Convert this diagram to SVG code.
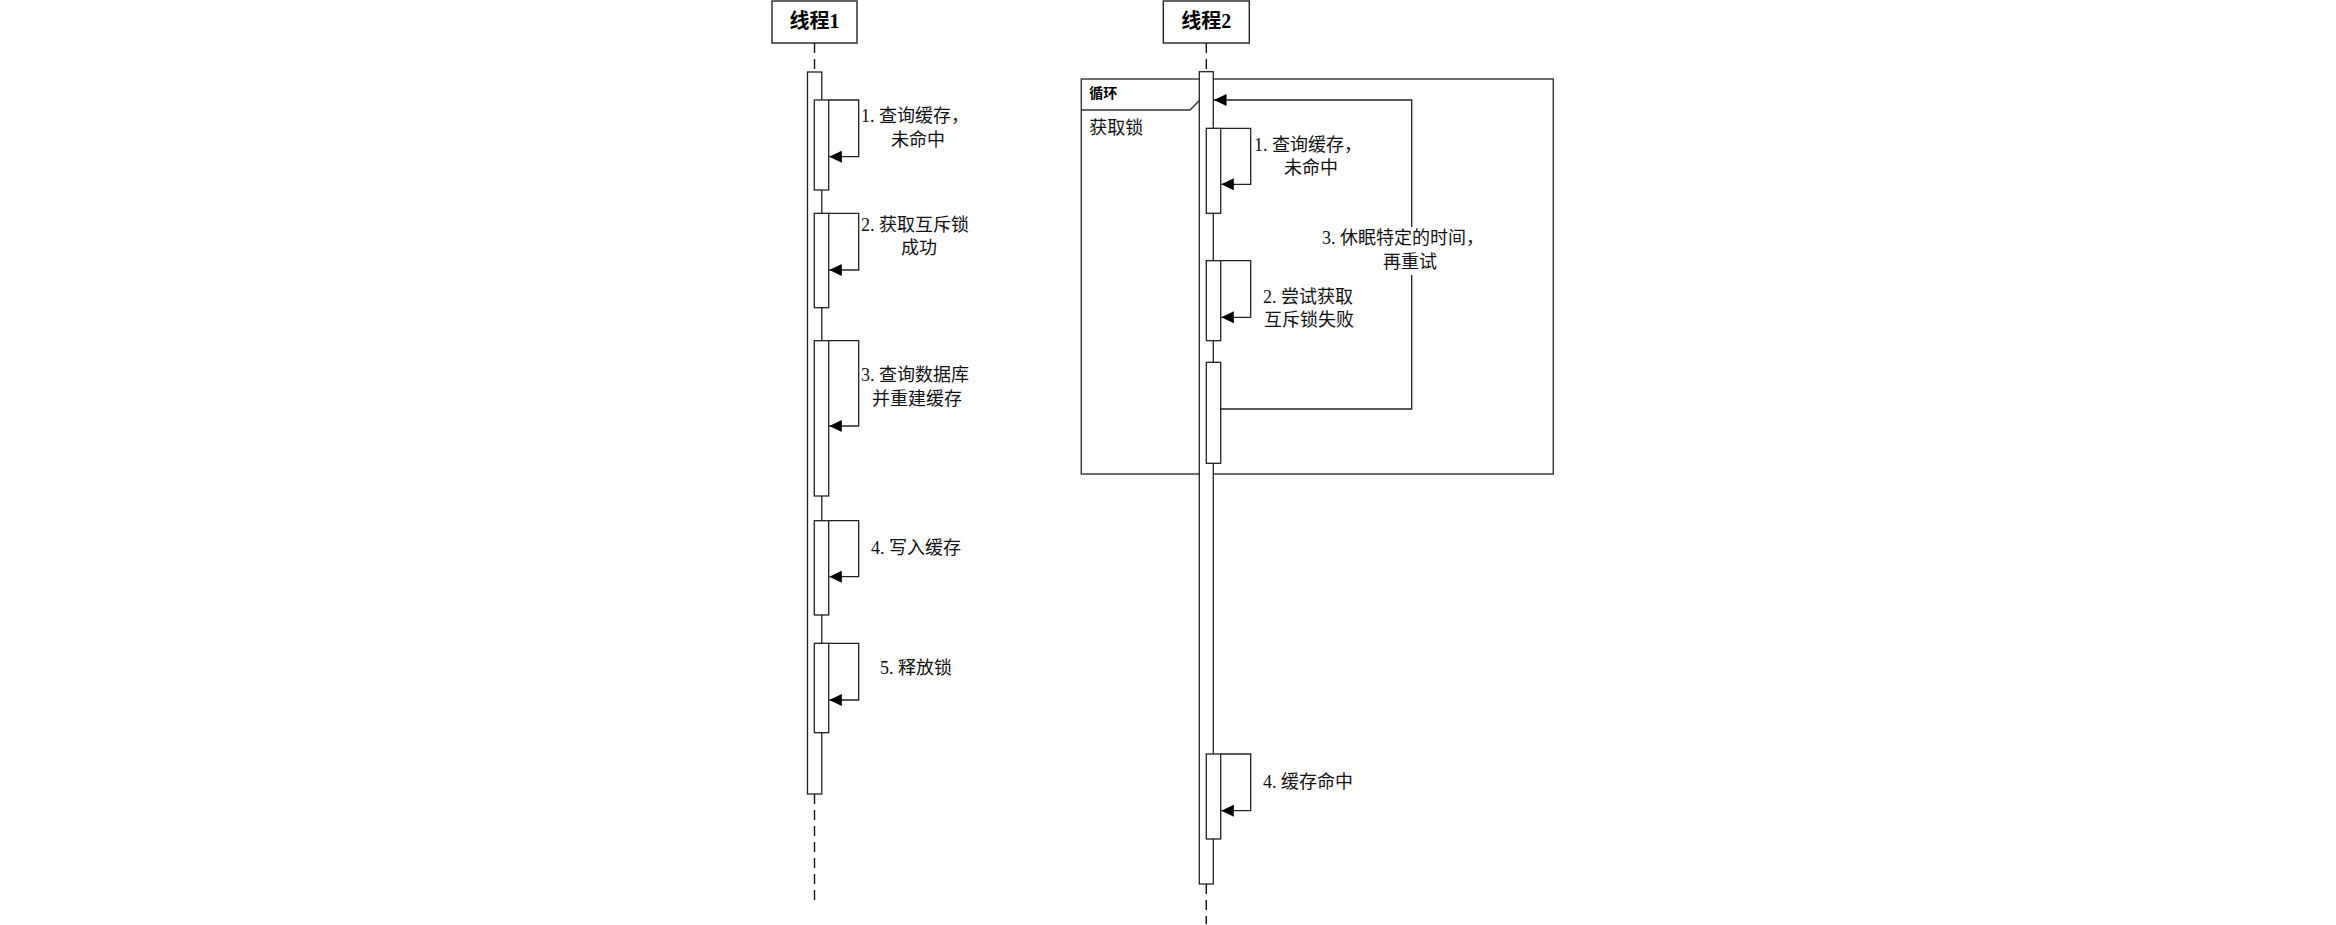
<svg xmlns="http://www.w3.org/2000/svg" width="2336" height="925" viewBox="0 0 2336 925">
<style>
.hdr{fill:#fff;stroke:#222;stroke-width:1.4}
.ht{font-family:"Liberation Serif","Noto Sans CJK SC",serif;font-size:20px;font-weight:bold;fill:#000;text-anchor:middle}
.lt{font-family:"Liberation Serif","Noto Sans CJK SC",serif;font-size:18px;fill:#111}
.ft{font-family:"Liberation Serif","Noto Sans CJK SC",serif;font-size:14px;font-weight:bold;fill:#000}
.life{stroke:#111;stroke-width:1.4;stroke-dasharray:10 6;fill:none}
.bar{fill:#fff;stroke:#222;stroke-width:1.3}
.msg{fill:none;stroke:#222;stroke-width:1.3}
.frame{fill:none;stroke:#333;stroke-width:1.4}
</style>
<defs>
<marker id="ah" markerUnits="userSpaceOnUse" markerWidth="13" markerHeight="12" refX="12.5" refY="6" orient="auto">
<path d="M0,0 L12.5,6 L0,12 z" fill="#000"/>
</marker>
</defs>
<rect width="2336" height="925" fill="#fff"/>

<g id="loop-frame">
<rect class="frame" x="1081.3" y="79" width="472" height="395"/>
<path class="frame" d="M1081.3,110 H1190 L1201.7,98.3 V79"/>
<text class="ft" x="1089.3" y="98">循环</text>
<text class="lt" x="1089.3" y="134">获取锁</text>
</g>

<g id="thread1">
<rect class="hdr" x="772" y="1" width="85" height="42"/>
<text class="ht" x="814.5" y="28">线程1</text>
<line class="life" x1="814.5" y1="43" x2="814.5" y2="72"/>
<line class="life" x1="814.5" y1="794" x2="814.5" y2="900"/>
<rect class="bar" x="807.5" y="72" width="14.3" height="722"/>
</g>

<g id="thread2">
<rect class="hdr" x="1163.3" y="1" width="86" height="42"/>
<text class="ht" x="1206.3" y="28">线程2</text>
<line class="life" x1="1206.3" y1="43" x2="1206.3" y2="72"/>
<line class="life" x1="1206.3" y1="884" x2="1206.3" y2="924"/>
<rect class="bar" x="1199.3" y="71.7" width="14" height="812.3"/>
</g>

<g id="t1-act">
<rect class="bar" x="814.3" y="100" width="14.4" height="90"/>
<rect class="bar" x="814.3" y="213.3" width="14.4" height="94.4"/>
<rect class="bar" x="814.3" y="340.7" width="14.4" height="155.3"/>
<rect class="bar" x="814.3" y="520.7" width="14.4" height="94.3"/>
<rect class="bar" x="814.3" y="643.3" width="14.4" height="89.4"/>
</g>

<g id="t2-act">
<rect class="bar" x="1206.3" y="128.3" width="14.4" height="85"/>
<rect class="bar" x="1206.3" y="260.7" width="14.4" height="80"/>
<rect class="bar" x="1206.3" y="362.3" width="14.4" height="101"/>
<rect class="bar" x="1206.3" y="754" width="14.4" height="85"/>
</g>

<g id="connectors">
<path class="msg" d="M828.7,100 H858.7 V156.7 H829.3" marker-end="url(#ah)"/>
<path class="msg" d="M828.7,213.3 H858.7 V270 H829.3" marker-end="url(#ah)"/>
<path class="msg" d="M828.7,340.7 H858.7 V426 H829.3" marker-end="url(#ah)"/>
<path class="msg" d="M828.7,520.7 H858.7 V576.7 H829.3" marker-end="url(#ah)"/>
<path class="msg" d="M828.7,643.3 H858.7 V700 H829.3" marker-end="url(#ah)"/>
<path class="msg" d="M1220.7,128.3 H1250.7 V184.3 H1221.3" marker-end="url(#ah)"/>
<path class="msg" d="M1220.7,260.7 H1250.7 V317.3 H1221.3" marker-end="url(#ah)"/>
<path class="msg" d="M1220.7,409 H1411.7 V100 H1214" marker-end="url(#ah)"/>
<path class="msg" d="M1220.7,754 H1250.7 V810.7 H1221.3" marker-end="url(#ah)"/>
</g>

<g id="labels">
<text class="lt" x="861" y="122">1. 查询缓存，</text>
<text class="lt" x="891" y="146">未命中</text>
<text class="lt" x="861" y="231">2. 获取互斥锁</text>
<text class="lt" x="901" y="254">成功</text>
<text class="lt" x="861" y="381">3. 查询数据库</text>
<text class="lt" x="872" y="405">并重建缓存</text>
<text class="lt" x="871" y="554">4. 写入缓存</text>
<text class="lt" x="880" y="674">5. 释放锁</text>
<text class="lt" x="1254" y="151">1. 查询缓存，</text>
<text class="lt" x="1284" y="174">未命中</text>
<text class="lt" x="1263" y="303">2. 尝试获取</text>
<text class="lt" x="1264" y="326">互斥锁失败</text>
<rect x="1320" y="227" width="170" height="48" fill="#fff"/>
<text class="lt" x="1322" y="244">3. 休眠特定的时间，</text>
<text class="lt" x="1383" y="268">再重试</text>
<text class="lt" x="1263" y="788">4. 缓存命中</text>
</g>
</svg>
